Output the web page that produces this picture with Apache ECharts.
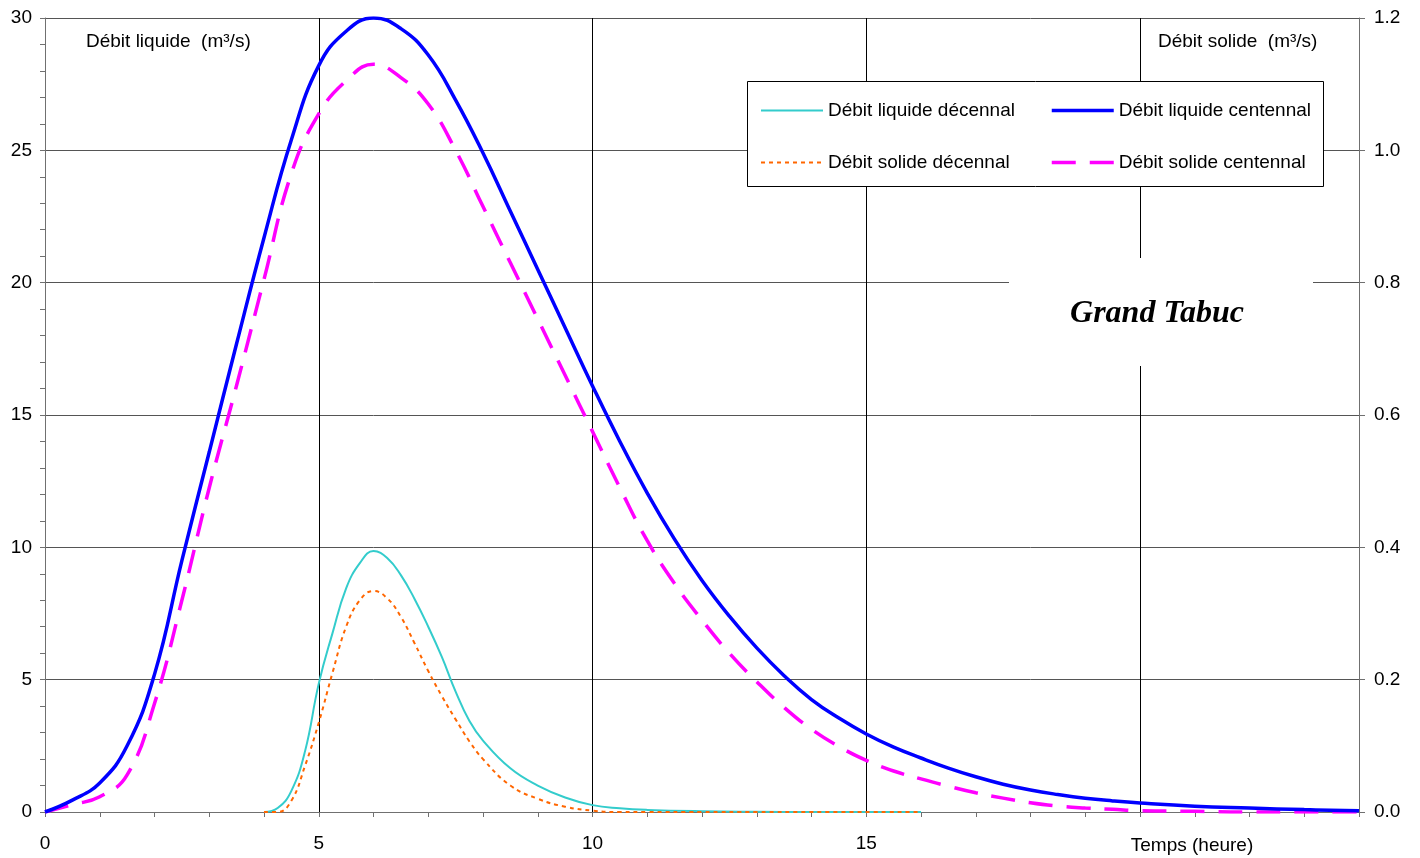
<!DOCTYPE html>
<html>
<head>
<meta charset="utf-8">
<script src="https://cdn.jsdelivr.net/npm/echarts@6/dist/echarts.min.js"></script>
<style>
  html, body { margin: 0; padding: 0; background: #fff; }
  #chart { width: 1420px; height: 858px; }
</style>
</head>
<body>
<div id="chart"></div>
<script>
// Hydrogrammes du Grand Tabuc : débits liquides (axe gauche) et solides (axe droit)
const heuresCentennal = [0, 0.5, 1, 1.5, 2, 2.5, 3, 3.5, 4, 4.5, 5, 5.5, 6, 6.5, 7, 7.5, 8, 8.5, 9, 9.5,
  10, 10.5, 11, 11.5, 12, 12.5, 13, 13.5, 14, 14.5, 15, 15.5, 16, 16.5, 17, 17.5, 18, 18.5, 19, 19.5,
  20, 21, 22, 23, 24];
const liquideCentennal = [0, 0.45, 1.1, 2.5, 5.2, 9.5, 13.6, 17.7, 21.7, 25.4, 28.2, 29.5, 30.0, 29.6, 28.6, 26.9, 24.9, 22.7, 20.5, 18.3,
  16.1, 14.0, 12.05, 10.3, 8.75, 7.4, 6.2, 5.15, 4.25, 3.55, 2.95, 2.45, 2.04, 1.66, 1.33, 1.05, 0.83, 0.66, 0.52, 0.42,
  0.34, 0.22, 0.15, 0.09, 0.05];
const solideCentennal = [0, 0.011, 0.023, 0.056, 0.164, 0.32, 0.49, 0.645, 0.805, 0.965, 1.055, 1.105, 1.13, 1.11, 1.07, 1.0, 0.915, 0.83, 0.745, 0.66,
  0.575, 0.49, 0.41, 0.345, 0.29, 0.24, 0.197, 0.158, 0.125, 0.099, 0.078, 0.062, 0.05, 0.039, 0.029, 0.021, 0.014, 0.009, 0.006, 0.004,
  0.002, 0.001, 0, 0, 0];

const heuresDecennal = [4, 4.25, 4.5, 4.75, 5, 5.25, 5.5, 5.75, 6, 6.25, 6.5, 6.75, 7, 7.25, 7.5, 7.75, 8, 8.5, 9, 9.5,
  10, 10.5, 11, 12, 13, 14, 16];
const liquideDecennal = [0, 0.15, 0.8, 2.3, 4.85, 6.75, 8.45, 9.4, 9.86, 9.6, 8.95, 8.05, 7.0, 5.85, 4.55, 3.45, 2.7, 1.65, 1.0, 0.55,
  0.26, 0.14, 0.08, 0.03, 0.01, 0, 0];
const solideDecennal = [0, 0, 0.017, 0.07, 0.135, 0.21, 0.28, 0.32, 0.334, 0.323, 0.295, 0.255, 0.213, 0.175, 0.14, 0.107, 0.08, 0.04, 0.02, 0.008,
  0.002, 0, 0, 0, 0, 0, 0];

const ticksGauche = [0, 5, 10, 15, 20, 25, 30];
const ticksBas = [0, 5, 10, 15];

const pairs = (xs, ys) => xs.map((x, i) => [x, ys[i]]);

const FONT = '"Liberation Sans", Arial, sans-serif';
const FS = 19;
const AXIS_GREY = '#707070';
const LISSAGE = 0.45;

const chart = echarts.init(document.getElementById('chart'), null, { renderer: 'canvas' });

const legendBase = {
  top: 101, orient: 'vertical', padding: 0, itemGap: 33,
  itemWidth: 62, itemHeight: 16, z: 6,
  textStyle: { fontSize: FS, fontFamily: FONT, color: '#000' },
  lineStyle: { width: 'inherit' },
  itemStyle: { opacity: 0 }
};

const option = {
  animation: false,
  backgroundColor: '#ffffff',
  grid: { left: 45, right: 61, top: 18, bottom: 46, containLabel: false },
  xAxis: [
    {
      type: 'value', min: 0, max: 24, interval: 1,
      axisLine: { show: true, onZero: false, lineStyle: { color: AXIS_GREY, width: 1 } },
      axisTick: { show: true, inside: false, length: 5, lineStyle: { color: AXIS_GREY } },
      axisLabel: {
        margin: 22, color: '#000', fontSize: FS, fontFamily: FONT,
        formatter: v => (ticksBas.indexOf(v) >= 0 ? String(v) : '')
      },
      splitLine: { show: false }
    },
    {
      type: 'value', min: 0, max: 24, interval: 5, position: 'bottom',
      axisLine: { show: false }, axisTick: { show: false }, axisLabel: { show: false },
      splitLine: { show: true, showMinLine: false, showMaxLine: false, lineStyle: { color: '#000', width: 1 } }
    }
  ],
  yAxis: [
    {
      type: 'value', min: 0, max: 30, interval: 1, position: 'left',
      axisLine: { show: true, onZero: false, lineStyle: { color: AXIS_GREY, width: 1 } },
      axisTick: { show: true, inside: false, length: 5, lineStyle: { color: AXIS_GREY } },
      axisLabel: {
        margin: 13, color: '#000', fontSize: FS, fontFamily: FONT, padding: [3, 0, 0, 0],
        formatter: v => (ticksGauche.indexOf(v) >= 0 ? String(v) : '')
      },
      splitLine: { show: false }
    },
    {
      type: 'value', min: 0, max: 1.2, interval: 0.2, position: 'right',
      axisLine: { show: true, onZero: false, lineStyle: { color: AXIS_GREY, width: 1 } },
      axisTick: { show: true, inside: false, length: 6, lineStyle: { color: AXIS_GREY } },
      axisLabel: {
        margin: 15, color: '#000', fontSize: FS, fontFamily: FONT, padding: [3, 0, 0, 0],
        formatter: v => v.toFixed(1)
      },
      splitLine: { show: true, showMinLine: false, showMaxLine: true, lineStyle: { color: '#555', width: 1 } }
    }
  ],
  legend: [
    Object.assign({}, legendBase, { left: 760, data: ['Débit liquide décennal', 'Débit solide décennal'] }),
    Object.assign({}, legendBase, { left: 1050, data: ['Débit liquide centennal', 'Débit solide centennal'] })
  ],
  graphic: [
    // cadre de la légende
    { type: 'rect', z: 3, shape: { x: 747.5, y: 81.5, width: 576, height: 105 },
      style: { fill: '#fff', stroke: '#000', lineWidth: 1 } },
    // fond du titre « Grand Tabuc »
    { type: 'rect', z: 3, shape: { x: 1009, y: 258, width: 304, height: 108 },
      style: { fill: '#fff', stroke: null } },
    // fond du titre de l'axe droit
    { type: 'rect', z: 3, shape: { x: 1141, y: 28, width: 196, height: 29 },
      style: { fill: '#fff', stroke: null } },
    { type: 'text', z: 5, x: 86, y: 42,
      style: { text: 'Débit liquide  (m³/s)', fill: '#000', font: FS + 'px ' + FONT, textVerticalAlign: 'middle' } },
    { type: 'text', z: 5, x: 1158, y: 42,
      style: { text: 'Débit solide  (m³/s)', fill: '#000', font: FS + 'px ' + FONT, textVerticalAlign: 'middle' } },
    { type: 'text', z: 5, x: 1157, y: 314,
      style: { text: 'Grand Tabuc', fill: '#000', font: 'italic bold 32px "Liberation Serif", "Times New Roman", serif',
        textAlign: 'center', textVerticalAlign: 'middle' } },
    { type: 'text', z: 5, x: 1192, y: 846,
      style: { text: 'Temps (heure)', fill: '#000', font: FS + 'px ' + FONT, textAlign: 'center', textVerticalAlign: 'middle' } }
  ],
  series: [
    {
      name: 'Débit liquide décennal', type: 'line', xAxisIndex: 0, yAxisIndex: 0,
      data: pairs(heuresDecennal, liquideDecennal), symbol: 'none', smooth: LISSAGE,
      lineStyle: { color: '#33CCCC', width: 2 }, itemStyle: { color: '#33CCCC' }, z: 2
    },
    {
      name: 'Débit solide décennal', type: 'line', xAxisIndex: 0, yAxisIndex: 1,
      data: pairs(heuresDecennal, solideDecennal), symbol: 'none', smooth: LISSAGE,
      lineStyle: { color: '#FF6600', width: 2, type: [4, 4] }, itemStyle: { color: '#FF6600' }, z: 2
    },
    {
      name: 'Débit solide centennal', type: 'line', xAxisIndex: 0, yAxisIndex: 1,
      data: pairs(heuresCentennal, solideCentennal), symbol: 'none', smooth: LISSAGE,
      lineStyle: { color: '#FF00FF', width: 3.5, type: [24, 14] }, itemStyle: { color: '#FF00FF' }, z: 2
    },
    {
      name: 'Débit liquide centennal', type: 'line', xAxisIndex: 0, yAxisIndex: 0,
      data: pairs(heuresCentennal, liquideCentennal), symbol: 'none', smooth: LISSAGE,
      lineStyle: { color: '#0000FF', width: 3.5 }, itemStyle: { color: '#0000FF' }, z: 2
    }
  ]
};

chart.setOption(option);
</script>
</body>
</html>
